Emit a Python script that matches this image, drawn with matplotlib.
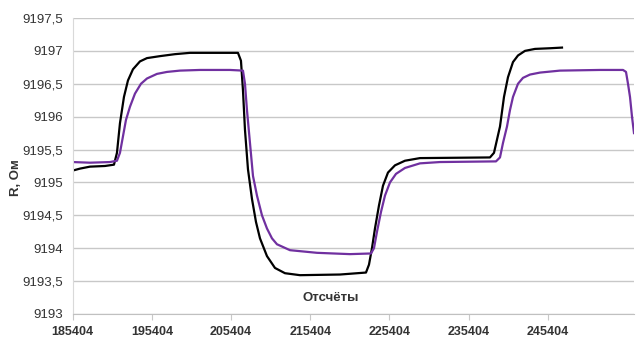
import numpy as np
import matplotlib.pyplot as plt

# Sample numbers (x) and resistance (R, Ohm)
black_x = [185404, 186326, 187588, 189482, 190619, 190997, 191376, 191881, 192386, 193017,
           193901, 194785, 196426, 198320, 200214, 206275, 206653, 206906, 207159, 207537,
           208042, 208547, 209053, 209936, 210946, 212209, 214103, 219153, 222436, 222815,
           223194, 223572, 224077, 224583, 225214, 226098, 227360, 229254, 238092, 238597,
           238976, 239355, 239860, 240365, 240996, 241628, 242511, 243774, 245668, 247183]
black_r = [9195.18, 9195.21, 9195.24, 9195.25, 9195.27, 9195.45, 9195.90, 9196.30, 9196.55, 9196.72,
           9196.84, 9196.89, 9196.92, 9196.95, 9196.97, 9196.97, 9196.85, 9196.40, 9195.80, 9195.20,
           9194.75, 9194.40, 9194.15, 9193.88, 9193.70, 9193.62, 9193.59, 9193.60, 9193.63, 9193.75,
           9194.00, 9194.30, 9194.65, 9194.95, 9195.15, 9195.26, 9195.33, 9195.37, 9195.38, 9195.45,
           9195.65, 9195.85, 9196.30, 9196.60, 9196.83, 9196.93, 9197.00, 9197.03, 9197.04, 9197.05]

purple_x = [185404, 187588, 190113, 190997, 191376, 191755, 192134, 192639, 193270, 194028,
            194785, 196048, 197310, 198952, 201477, 205265, 206906, 207159, 207411, 207790,
            208169, 208674, 209305, 209936, 210568, 211199, 212840, 216249, 220416, 223067,
            223446, 223825, 224330, 224835, 225466, 226224, 227360, 229254, 231779, 238850,
            239355, 239734, 240239, 240617, 240996, 241628, 242259, 243144, 244405, 246931,
            251981, 254885, 255264, 255516, 255769, 256021, 256274]
purple_r = [9195.31, 9195.30, 9195.31, 9195.33, 9195.45, 9195.70, 9195.95, 9196.15, 9196.35, 9196.50,
            9196.58, 9196.65, 9196.68, 9196.70, 9196.71, 9196.71, 9196.70, 9196.50, 9196.10, 9195.60,
            9195.10, 9194.80, 9194.50, 9194.30, 9194.15, 9194.06, 9193.97, 9193.93, 9193.91, 9193.92,
            9194.00, 9194.25, 9194.55, 9194.80, 9195.00, 9195.13, 9195.22, 9195.29, 9195.31, 9195.32,
            9195.38, 9195.60, 9195.85, 9196.10, 9196.30, 9196.50, 9196.59, 9196.64, 9196.67, 9196.70,
            9196.71, 9196.71, 9196.68, 9196.50, 9196.30, 9196.00, 9195.75]

x_ticks = [185404, 195404, 205404, 215404, 225404, 235404, 245404]
y_ticks = [9193, 9193.5, 9194, 9194.5, 9195, 9195.5, 9196, 9196.5, 9197, 9197.5]
y_labels = ['9193', '9193,5', '9194', '9194,5', '9195', '9195,5', '9196', '9196,5', '9197', '9197,5']

plt.rcParams['font.family'] = ['Liberation Sans Narrow', 'Liberation Sans', 'DejaVu Sans']

fig = plt.figure(figsize=(6.43, 3.4), dpi=100)
ax = fig.add_axes([0.113, 0.0765, 0.873, 0.8706])

ax.plot(black_x, black_r, color='black', lw=1.6)
ax.plot(purple_x, purple_r, color='#7030a0', lw=1.6)

ax.set_xlim(185404, 256274)
ax.set_ylim(9193, 9197.5)
ax.set_xticks(x_ticks)
ax.set_xticklabels([str(t) for t in x_ticks], fontsize=9, fontweight='bold', color='#333333')
ax.set_yticks(y_ticks)
ax.set_yticklabels(y_labels, fontsize=9.5, color='#333333')
ax.yaxis.grid(True, color='#c8c8c8', lw=1)
ax.set_axisbelow(True)
ax.tick_params(axis='y', length=0, pad=7)
ax.tick_params(axis='x', length=4, color='#c8c8c8', pad=5)

for side in ['top', 'right']:
    ax.spines[side].set_visible(False)
ax.spines['left'].set_color('#d9d9d9')
ax.spines['bottom'].set_color('#c0c0c0')

ax.set_ylabel('R, Ом', fontsize=9.5, fontweight='bold', color='#333333')
ax.yaxis.set_label_coords(-0.09, 0.46)
ax.text(0.46, 0.055, 'Отсчёты', transform=ax.transAxes, ha='center', va='center',
        fontsize=9.5, fontweight='bold', color='#333333')

fig.savefig('out.png', dpi=100)
